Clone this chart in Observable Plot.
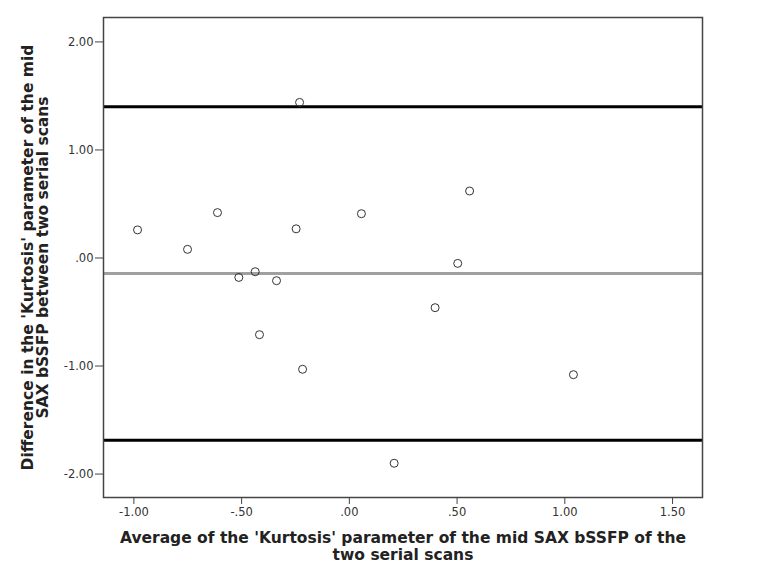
<!DOCTYPE html>
<html>
<head>
<meta charset="utf-8">
<script src="https://cdn.jsdelivr.net/npm/d3@7"></script>
<script src="https://cdn.jsdelivr.net/npm/@observablehq/plot@0.6"></script>
<style>
  html, body { margin: 0; padding: 0; background: #fff; }
  #chart { width: 769px; height: 569px; }
</style>
</head>
<body>
<div id="chart"></div>
<script>
// Bland-Altman data
const avgValues  = [-0.983, -0.751, -0.612, -0.513, -0.437, -0.338, -0.247, -0.231, 0.056, 0.558, 0.503, -0.417, -0.217, 0.208, 0.398, 1.040];
const diffValues = [0.26, 0.08, 0.42, -0.18, -0.127, -0.21, 0.27, 1.44, 0.41, 0.62, -0.05, -0.71, -1.03, -1.90, -0.46, -1.08];
const meanDiff = -0.143;
const upperLoA = 1.40;
const lowerLoA = -1.687;
const xTicks = [-1, -0.5, 0, 0.5, 1, 1.5];
const yTicks = [-2, -1, 0, 1, 2];
const xLabel = "Average of the 'Kurtosis' parameter of the mid SAX bSSFP of the\ntwo serial scans";
const yLabel = "Difference in the 'Kurtosis' parameter of the mid\nSAX bSSFP between two serial scans";

const points = avgValues.map((x, i) => ({x, y: diffValues[i]}));
const spss = v => d3.format(".2f")(v).replace("\u2212", "-").replace(/^(-?)0\./, "$1.");

const chart = Plot.plot({
  width: 769,
  height: 569,
  marginLeft: 103,
  marginRight: 67,
  marginTop: 17,
  marginBottom: 72,
  style: {fontFamily: "DejaVu Sans, sans-serif", fontSize: "11px", color: "#333", background: "#fff"},
  x: {domain: [-1.141, 1.639]},
  y: {domain: [-2.217, 2.226]},
  marks: [
    Plot.axisX({ticks: xTicks, tickFormat: spss, tickSize: 7, tickPadding: 3, label: null, stroke: "#444", fill: "#333", fontSize: 11.5}),
    Plot.axisY({ticks: yTicks, tickFormat: spss, tickSize: 8, tickPadding: 2, label: null, stroke: "#444", fill: "#333", fontSize: 11.5}),
    Plot.ruleY([upperLoA, lowerLoA], {stroke: "#000", strokeWidth: 3}),
    Plot.ruleY([meanDiff], {stroke: "#a0a0a0", strokeWidth: 3}),
    Plot.dot(points, {x: "x", y: "y", r: 4, stroke: "#333", strokeWidth: 1, fill: "none"}),
    Plot.frame({stroke: "#444", strokeWidth: 1.5}),
    Plot.text([xLabel], {text: d => d, frameAnchor: "bottom", textAnchor: "middle", dy: 49, lineAnchor: "middle", fontWeight: "bold", fontSize: 15.5, fill: "#222", lineHeight: 1.1}),
    Plot.text([yLabel], {text: d => d, frameAnchor: "left", textAnchor: "middle", dx: -68, rotate: -90, lineAnchor: "middle", fontWeight: "bold", fontSize: 15.5, fill: "#222", lineHeight: 0.97})
  ]
});
document.getElementById("chart").appendChild(chart);
</script>
</body>
</html>
